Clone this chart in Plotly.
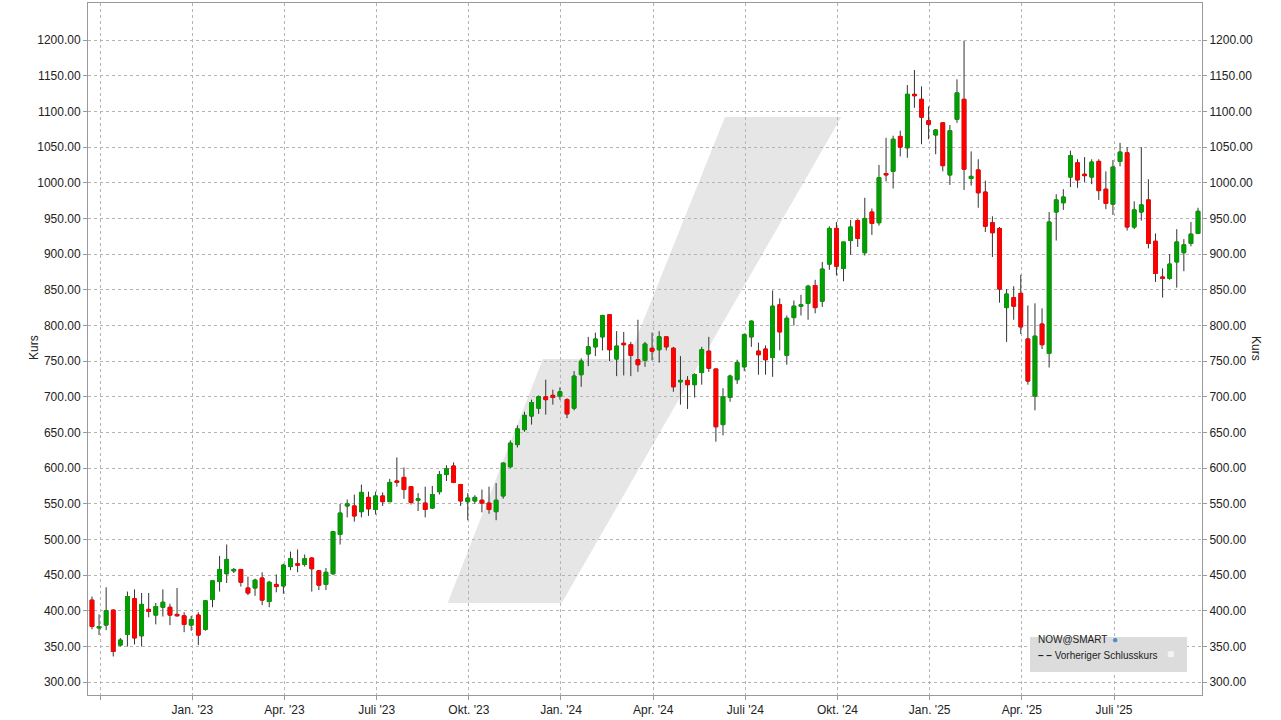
import plotly.graph_objects as go

# weekly candles, NOW@SMART
opens = [415, 376, 380, 401, 352, 367, 417, 365, 402, 394, 405, 405, 395, 393, 380, 394, 374, 416, 441, 452,
         456, 458, 432, 432, 446, 413, 437, 435, 462, 466, 465, 474, 456, 437, 452, 507, 547, 547, 539, 559,
         542, 561, 553, 582, 587, 574, 555, 551, 544, 567, 591, 603, 577, 553, 554, 555, 551, 539, 561, 602,
         633, 654, 673, 684, 700, 702, 701, 696, 684, 731, 760, 770, 784, 815, 753, 775, 773, 752, 751, 768,
         766, 784, 768, 721, 723, 717, 734, 764, 739, 661, 699, 724, 742, 784, 764, 767, 755, 829, 758, 811,
         827, 831, 856, 834, 886, 936, 880, 919, 947, 902, 959, 944, 1013, 1016, 1065, 1049, 1124, 1117, 1087, 1067,
         1084, 1011, 1089, 1117, 1006, 1018, 987, 944, 936, 825, 839, 845, 781, 701, 802, 761, 959, 972, 1008, 1028,
         1012, 1008, 1030, 991, 970, 1030, 1042, 938, 959, 976, 918, 868, 866, 889, 902, 915, 929]
highs = [420, 395, 433, 402, 362, 427, 430, 425, 425, 411, 430, 410, 432, 398, 393, 398, 415, 443, 477, 493,
         460, 458, 448, 445, 454, 442, 451, 466, 483, 486, 479, 475, 457, 460, 512, 550, 556, 563, 577, 567,
         567, 566, 585, 615, 601, 574, 565, 574, 575, 596, 604, 608, 578, 565, 562, 570, 574, 579, 608, 639,
         660, 679, 696, 702, 724, 710, 713, 698, 736, 754, 784, 790, 815, 815, 792, 791, 777, 808, 777, 790,
         792, 784, 770, 757, 729, 733, 770, 784, 739, 712, 731, 752, 789, 807, 776, 772, 849, 838, 814, 835,
         843, 857, 864, 889, 939, 945, 917, 948, 949, 979, 964, 1025, 1063, 1066, 1073, 1137, 1158, 1135, 1107, 1075,
         1085, 1081, 1145, 1199, 1044, 1033, 1003, 953, 938, 851, 855, 871, 828, 831, 824, 959, 984, 991, 1045, 1033,
         1036, 1033, 1033, 1016, 1032, 1056, 1050, 974, 1050, 1005, 929, 880, 900, 935, 921, 945, 965]
lows = [374, 366, 373, 336, 350, 350, 353, 350, 391, 381, 392, 380, 392, 370, 372, 352, 372, 405, 427, 439,
        453, 434, 422, 421, 408, 405, 426, 424, 457, 454, 462, 427, 429, 429, 450, 493, 531, 525, 531, 533,
        535, 547, 553, 574, 557, 549, 540, 531, 543, 563, 582, 579, 547, 527, 550, 538, 536, 527, 557, 600,
        629, 651, 661, 676, 675, 689, 696, 670, 681, 714, 743, 757, 765, 750, 729, 730, 729, 735, 742, 751,
        748, 765, 707, 689, 683, 699, 717, 735, 637, 646, 693, 718, 736, 770, 731, 731, 728, 765, 745, 800,
        814, 808, 817, 826, 878, 870, 862, 899, 910, 898, 927, 940, 1002, 992, 1037, 1035, 1105, 1054, 1061, 1040,
        1016, 997, 1084, 990, 996, 965, 931, 896, 832, 777, 808, 788, 717, 681, 767, 741, 919, 962, 994, 993,
        1001, 998, 976, 963, 955, 1023, 933, 935, 947, 908, 861, 839, 864, 853, 876, 911, 928]
closes = [378, 378, 400, 343, 359, 420, 362, 409, 399, 406, 412, 394, 393, 381, 388, 366, 414, 442, 458, 472,
          458, 440, 425, 443, 415, 440, 434, 464, 473, 464, 473, 459, 436, 454, 511, 537, 550, 533, 566, 543,
          561, 553, 580, 580, 570, 552, 557, 542, 563, 591, 599, 580, 554, 558, 559, 551, 542, 555, 607, 635,
          655, 674, 692, 700, 696, 699, 707, 676, 729, 750, 770, 781, 814, 766, 771, 773, 758, 745, 774, 764,
          784, 770, 714, 723, 717, 731, 766, 740, 658, 700, 729, 748, 787, 806, 759, 752, 827, 791, 810, 827,
          829, 855, 825, 879, 936, 883, 917, 938, 922, 950, 943, 1007, 1011, 1061, 1050, 1124, 1122, 1092, 1082, 1074,
          1024, 1073, 1126, 1019, 1009, 986, 939, 930, 851, 844, 827, 798, 722, 785, 773, 945, 976, 980, 1038, 1004,
          1010, 1029, 989, 971, 1022, 1043, 938, 962, 969, 915, 873, 866, 886, 917, 913, 928, 960]

tick_labels = ["", "Jan. '23", "Apr. '23", "Juli '23", "Okt. '23", "Jan. '24", "Apr. '24",
               "Juli '24", "Okt. '24", "Jan. '25", "Apr. '25", "Juli '25"]
y_ticks = list(range(300, 1201, 50))

weeks = list(range(len(opens)))
tick_pos = [1.15 + 13.0 * i for i in range(len(tick_labels))]

GREEN = "#00a000"
RED = "#ff0000"

fig = go.Figure()
# wicks
fig.add_trace(go.Candlestick(
    x=weeks, open=opens, high=highs, low=lows, close=closes,
    increasing=dict(line=dict(color="#333333", width=1), fillcolor=GREEN),
    decreasing=dict(line=dict(color="#333333", width=1), fillcolor=RED),
    showlegend=False, hoverinfo="skip"))
# bodies on top, so the body border is the fill colour
fig.add_trace(go.Candlestick(
    x=weeks, open=opens, close=closes,
    high=[max(o, c) for o, c in zip(opens, closes)],
    low=[min(o, c) for o, c in zip(opens, closes)],
    increasing=dict(line=dict(color=GREEN, width=1), fillcolor=GREEN),
    decreasing=dict(line=dict(color=RED, width=1), fillcolor=RED),
    showlegend=False))
# invisible trace so the right axis is drawn
fig.add_trace(go.Scatter(x=[weeks[0]], y=[opens[0]], yaxis="y2", mode="markers",
                         marker=dict(opacity=0), showlegend=False, hoverinfo="skip"))

yr = [282, 1252]
grid = dict(showgrid=True, gridcolor="#b4b4b4", griddash="dot", gridwidth=1)

fig.update_layout(
    width=1281, height=720,
    margin=dict(l=88, r=79, t=3, b=25, autoexpand=False),
    paper_bgcolor="white", plot_bgcolor="white",
    font=dict(family="Liberation Sans, Arial", size=12, color="#222222"),
    boxgap=0.25,
    xaxis=dict(range=[-0.56, 156.56], tickvals=tick_pos, ticktext=tick_labels, automargin=False,
               rangeslider=dict(visible=False), showline=True, linecolor="#999999",
               mirror=True, ticks="outside", ticklen=4, tickcolor="#999999", **grid),
    yaxis=dict(range=yr, tickvals=y_ticks, tickformat=".2f", showline=True, automargin=False,
               linecolor="#999999", ticks="outside", ticklen=4, tickcolor="#999999",
               zeroline=False, **grid),
    yaxis2=dict(range=yr, tickvals=y_ticks, tickformat=".2f", overlaying="y", side="right",
                showgrid=False, showline=True, linecolor="#999999", ticks="outside", automargin=False,
                ticklen=4, tickcolor="#999999", zeroline=False),
)

# pixel position -> paper coordinates
def px(x, y):
    return (x - 88) / 1114, (695 - y) / 692

# watermark logo
pts = [px(452, 600), px(545, 362), px(630, 362), px(727, 120), px(836, 120), px(560, 600)]
path = "M " + " L ".join(f"{a:.4f},{b:.4f}" for a, b in pts) + " Z"
fig.add_shape(type="path", path=path, xref="paper", yref="paper", fillcolor="#e6e6e6",
              line=dict(color="#e6e6e6", width=6), layer="below")

# legend box
x0, y0 = px(1030, 672)
x1, y1 = px(1187, 637)
fig.add_shape(type="rect", xref="paper", yref="paper", x0=x0, y0=y0, x1=x1, y1=y1,
              fillcolor="#dcdcdc", line=dict(width=0), layer="above")
ax, ay = px(1036, 647)
fig.add_annotation(xref="paper", yref="paper", x=ax, y=ay, text="NOW@SMART", showarrow=False,
                   xanchor="left", font=dict(size=10, color="#222222"))
gx, gy = px(1120, 647)
fig.add_annotation(xref="paper", yref="paper", x=gx, y=gy, text="●", showarrow=False,
                   font=dict(size=10, color="#4a8ccc"))
lx, ly = px(1036, 663)
fig.add_annotation(xref="paper", yref="paper", x=lx, y=ly, text="<b>– –</b> Vorheriger Schlusskurs",
                   showarrow=False, xanchor="left", font=dict(size=10, color="#222222"))
bx, by = px(1176, 663)
fig.add_annotation(xref="paper", yref="paper", x=bx, y=by, text="■", showarrow=False,
                   font=dict(size=12, color="#f4f4f4"))

# axis titles
for (tx, ty), ang in [((25, 348), -90), ((1265, 348), 90)]:
    a, b = px(tx, ty)
    fig.add_annotation(xref="paper", yref="paper", x=a, y=b, text="Kurs", textangle=ang,
                       showarrow=False, font=dict(size=12, color="#222222"))

fig.write_html("out.html", config={"displayModeBar": False},
               post_script="document.body.style.margin='0px';")
